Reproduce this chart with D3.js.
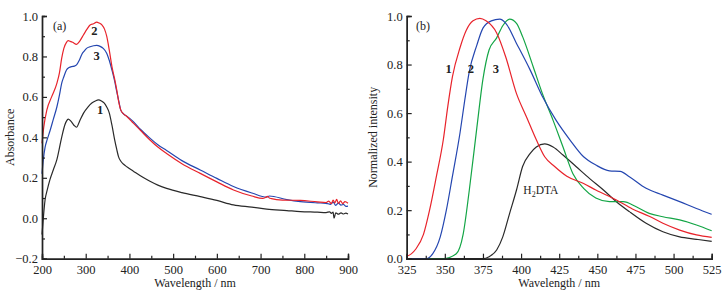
<!DOCTYPE html>
<html><head><meta charset="utf-8">
<script src="https://cdnjs.cloudflare.com/ajax/libs/d3/7.8.5/d3.min.js"></script>
<style>body{margin:0;background:#fff}svg{display:block}text{font-family:"Liberation Serif","Times New Roman",serif;fill:#222}</style>
</head><body>
<svg id="c" width="726" height="298"></svg>
<script>
// ---- Panel (a): UV-Vis absorbance ----
const absWl1 = [200,203,207,212,218,226,234,245,252,256,260,266,273,279,286,295,305,314,322,329,336,342,348,354,360,366,371,375,380,386,395,409,425,447,465,485,520,562,600,638,680,714,760,791,830,850,858,862,866,868,872,878,884,890,895,900];
const absA1  = [-0.08,0.0,0.09,0.14,0.19,0.24,0.29,0.40,0.46,0.48,0.49,0.48,0.46,0.45,0.48,0.52,0.55,0.57,0.58,0.585,0.58,0.57,0.55,0.52,0.46,0.39,0.34,0.305,0.283,0.268,0.253,0.233,0.21,0.183,0.164,0.148,0.127,0.107,0.088,0.066,0.055,0.045,0.038,0.033,0.030,0.028,0.032,0.024,0.03,0.0,0.027,0.02,0.027,0.021,0.025,0.021];
const absWl2 = [200,204,211,222,234,240,245,250,256,260,264,270,279,286,295,303,310,318,325,331,337,343,348,354,360,366,371,376,380,387,394,409,425,447,465,485,520,562,600,638,680,705,712,716,720,725,750,791,830,850,856,862,866,870,874,878,883,888,893,900];
const absA2  = [0.37,0.45,0.535,0.60,0.667,0.72,0.79,0.84,0.87,0.878,0.875,0.87,0.86,0.875,0.907,0.935,0.956,0.962,0.97,0.965,0.956,0.935,0.90,0.83,0.75,0.69,0.635,0.57,0.536,0.515,0.503,0.47,0.435,0.387,0.352,0.32,0.27,0.222,0.18,0.14,0.11,0.098,0.104,0.108,0.1,0.097,0.09,0.088,0.081,0.078,0.085,0.072,0.09,0.076,0.093,0.074,0.086,0.072,0.082,0.074];
const absWl3 = [200,203,207,212,218,226,234,240,245,250,256,262,268,274,279,285,291,296,302,310,318,325,333,340,348,354,360,366,371,376,380,387,394,409,425,447,465,485,520,562,600,638,680,714,720,760,791,830,850,860,866,872,878,884,890,895,900];
const absA3  = [0.22,0.29,0.35,0.39,0.43,0.49,0.55,0.61,0.667,0.70,0.733,0.745,0.75,0.752,0.758,0.78,0.81,0.825,0.84,0.848,0.853,0.855,0.85,0.84,0.816,0.78,0.733,0.68,0.626,0.575,0.536,0.515,0.505,0.478,0.44,0.396,0.363,0.335,0.285,0.239,0.197,0.157,0.125,0.104,0.11,0.092,0.082,0.076,0.074,0.069,0.08,0.064,0.075,0.065,0.068,0.059,0.06];
const absXTicks = [200,300,400,500,600,700,800,900];
const absYTicks = [-0.2,0.0,0.2,0.4,0.6,0.8,1.0];
const absYLabels = ["\u22120.2","0.0","0.2","0.4","0.6","0.8","1.0"];

// ---- Panel (b): normalized PL ----
const plWl1 = [325,328,331,336,340,344.5,349,352,355,360,364,368.5,373,377,384,390,397,403.5,410,415.5,422,430,441,449,462.5,473,484,493,504,515,525];
const plI1  = [0.01,0.02,0.04,0.10,0.20,0.34,0.49,0.63,0.75,0.87,0.94,0.98,0.99,0.98,0.93,0.83,0.68,0.585,0.49,0.42,0.38,0.34,0.31,0.283,0.242,0.205,0.175,0.146,0.118,0.098,0.088];
const plWl2 = [325,338,342,347,351,355,360,363,366,371,375,380.5,386,390,397,406,414,423,432,441,449,458,465,471,482,493,504,515,525];
const plI2  = [0,0,0.02,0.09,0.20,0.34,0.52,0.65,0.77,0.88,0.95,0.98,0.987,0.97,0.887,0.777,0.668,0.57,0.49,0.42,0.386,0.362,0.36,0.338,0.29,0.262,0.235,0.207,0.183];
const plWl3 = [325,349,357.5,362,366,371,375,379,384,388,392.5,397,401,408,414,421,427.5,434,441,449,458,467,475.5,484,493,504,515,525];
const plI3  = [0,0,0.02,0.10,0.28,0.54,0.74,0.86,0.91,0.96,0.987,0.97,0.915,0.79,0.68,0.57,0.46,0.35,0.29,0.25,0.235,0.235,0.214,0.187,0.173,0.16,0.139,0.115];
const plWl4 = [325,375,379,384,388,392.5,397,401,406,410,415.5,421,427.5,436,445,454,462.5,471,482,493,504,515,525];
const plI4  = [0,0,0.008,0.036,0.09,0.187,0.283,0.38,0.434,0.46,0.473,0.46,0.427,0.38,0.33,0.283,0.235,0.194,0.146,0.111,0.09,0.08,0.071];
const plXTicks = [325,350,375,400,425,450,475,500,525];
const plYTicks = [0.0,0.2,0.4,0.6,0.8,1.0];

const RED="#e8232b", BLUE="#2446b0", GREEN="#13a545", BLACK="#2a2a2a";
const svg = d3.select("#c");

function panel(o){
  const g = svg.append("g");
  const x = d3.scaleLinear().domain(o.xd).range(o.xr);
  const y = d3.scaleLinear().domain(o.yd).range(o.yr);
  const line = d3.line().x(d=>x(d[0])).y(d=>y(d[1])).curve(d3.curveMonotoneX);
  o.series.forEach(s=>{
    g.append("path").datum(s.wl.map((w,i)=>[w,s.v[i]])).attr("d",line)
      .attr("fill","none").attr("stroke",s.c).attr("stroke-width",1.2);
  });
  const ax = g.append("g").attr("transform",`translate(0,${o.yr[0]})`)
    .call(d3.axisBottom(x).tickValues(o.xt).tickSize(-5).tickPadding(4).tickFormat(d3.format("d")));
  const axm = g.append("g").attr("transform",`translate(0,${o.yr[0]})`)
    .call(d3.axisBottom(x).tickValues(o.xm).tickSize(-3).tickFormat(""));
  const ay = g.append("g").attr("transform",`translate(${o.xr[0]},0)`)
    .call(d3.axisLeft(y).tickValues(o.yt).tickSize(-5).tickPadding(4).tickFormat((d,i)=>o.yl[i]));
  const aym = g.append("g").attr("transform",`translate(${o.xr[0]},0)`)
    .call(d3.axisLeft(y).tickValues(o.ym).tickSize(-3).tickFormat(""));
  [ax,axm,ay,aym].forEach(a=>{
    a.select(".domain").attr("stroke","#222").attr("stroke-width",1.4);
    a.selectAll(".tick line").attr("stroke","#222").attr("stroke-width",1.2);
    a.selectAll("text").attr("font-size",12.5).attr("fill","#222").style("font-family",'"Liberation Serif",serif');
  });
  ax.selectAll("text").attr("dy","0.9em");
  g.append("text").attr("x",(o.xr[0]+o.xr[1])/2).attr("y",287).attr("text-anchor","middle")
    .attr("font-size",12).text("Wavelength / nm");
  g.append("text").attr("transform",`translate(${o.ytx},${(o.yr[0]+o.yr[1])/2}) rotate(-90)`)
    .attr("text-anchor","middle").attr("font-size",12).text(o.ytitle);
  return {g,x,y};
}

const wlMinor = [250,350,450,550,650,750,850];
const pa = panel({xd:[200,900],xr:[42,348],yd:[-0.2,1.0],yr:[258.7,16],
  xt:absXTicks,xm:wlMinor,yt:absYTicks,yl:absYLabels,ym:[-0.1,0.1,0.3,0.5,0.7,0.9],
  ytx:14,ytitle:"Absorbance",
  series:[{wl:absWl1,v:absA1,c:BLACK},{wl:absWl3,v:absA3,c:BLUE},{wl:absWl2,v:absA2,c:RED}]});
pa.g.append("text").attr("x",53).attr("y",30).attr("font-size",12).text("(a)");
[["2",320,0.93],["3",325,0.805],["1",333,0.535]].forEach(t=>{
  pa.g.append("text").attr("x",pa.x(t[1])).attr("y",pa.y(t[2])).attr("font-size",12.5)
    .attr("font-weight","bold").attr("text-anchor","middle").attr("dy","0.35em").text(t[0]);
});

const pb = panel({xd:[325,525],xr:[406.7,711.7],yd:[0,1.0],yr:[258.7,16],
  xt:plXTicks,xm:[337.5,362.5,387.5,412.5,437.5,462.5,487.5,512.5],yt:plYTicks,yl:plYTicks.map(d=>d.toFixed(1)),ym:[0.1,0.3,0.5,0.7,0.9],
  ytx:377,ytitle:"Normalized intensity",
  series:[{wl:plWl4,v:plI4,c:BLACK},{wl:plWl3,v:plI3,c:GREEN},{wl:plWl2,v:plI2,c:BLUE},{wl:plWl1,v:plI1,c:RED}]});
pb.g.append("text").attr("x",416).attr("y",30).attr("font-size",12).text("(b)");
[["1",352.5],["2",367],["3",383.5]].forEach(t=>{
  pb.g.append("text").attr("x",pb.x(t[1])).attr("y",pb.y(0.784)).attr("font-size",12.5)
    .attr("font-weight","bold").attr("text-anchor","middle").attr("dy","0.35em").text(t[0]);
});
const h = pb.g.append("text").attr("x",pb.x(401.5)).attr("y",pb.y(0.265)).attr("font-size",11.5);
h.append("tspan").text("H");
h.append("tspan").attr("font-size",8).attr("dy",3).text("2");
h.append("tspan").attr("dy",-3).text("DTA");
</script>
</body></html>
